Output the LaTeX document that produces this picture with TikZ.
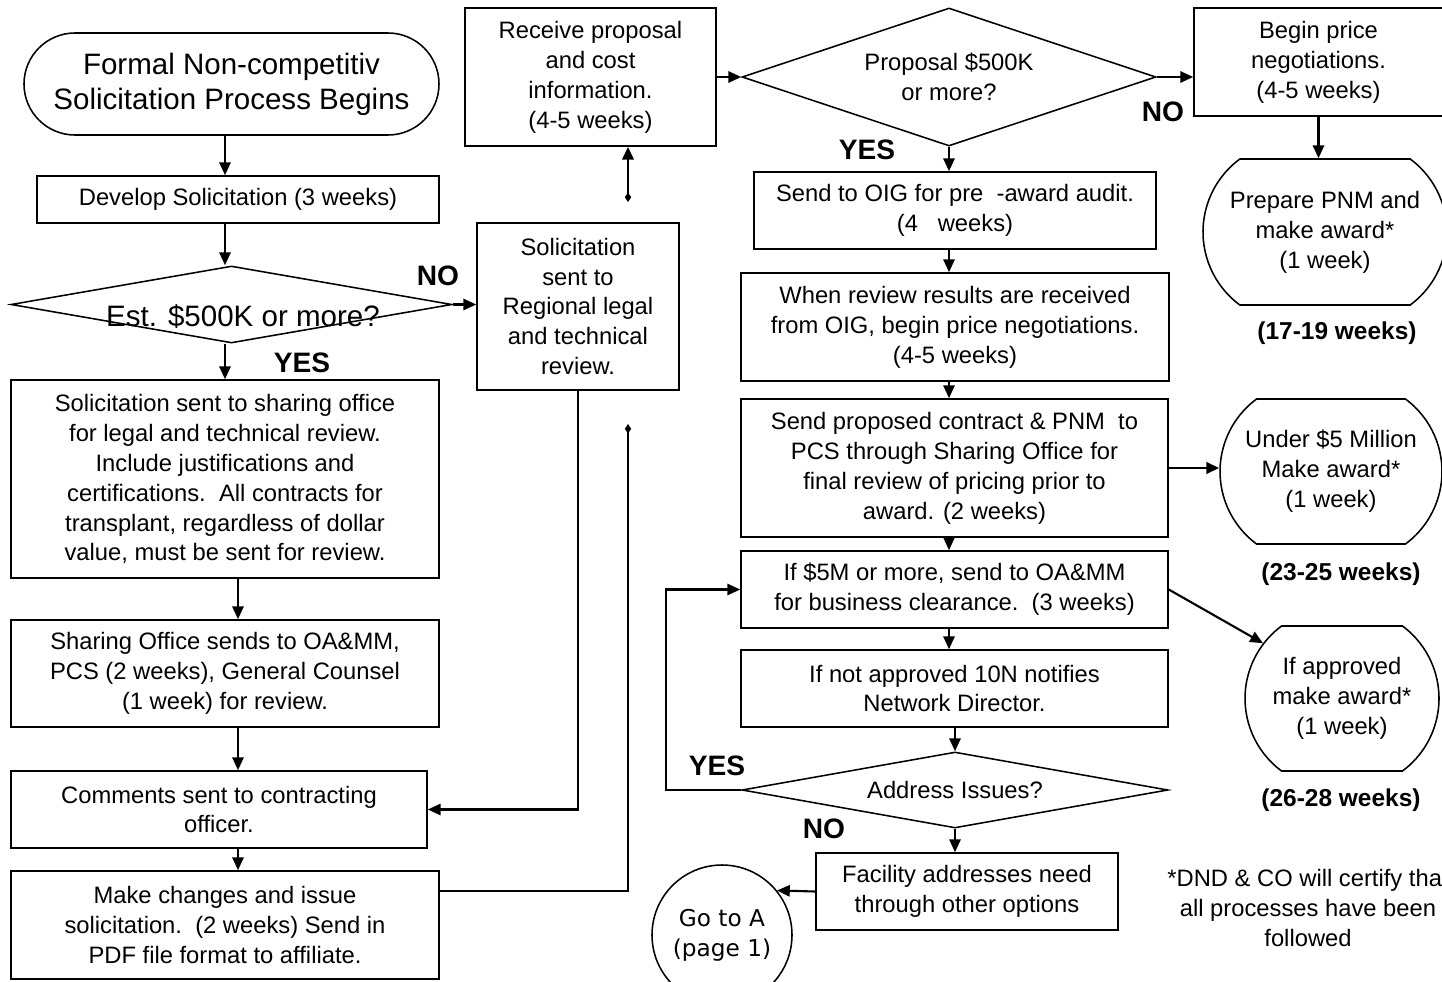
\documentclass[tikz,border=0pt]{standalone}
\usepackage{fontspec}
\setmainfont{Liberation Sans}
\newfontfamily\circlefont{DejaVu Sans}
\usetikzlibrary{shapes.geometric,shapes.misc,arrows.meta}

\begin{document}
\begin{tikzpicture}[x=0.25mm,y=-0.25mm,
    txt/.style={font=\fontsize{16.9}{21.3}\selectfont, align=center},
    bigtxt/.style={font=\fontsize{21}{24.8}\selectfont, align=center},
    box/.style={txt, draw, line width=1.1pt, inner sep=0pt},
    endbox/.style={txt, draw, line width=1.1pt, inner sep=0pt, rounded rectangle, rounded rectangle arc length=107},
    ask/.style={draw, diamond, line width=1.1pt, inner sep=0pt},
    yesno/.style={font=\fontsize{20}{24}\selectfont\bfseries},
    weeks/.style={font=\fontsize{17.4}{21}\selectfont\bfseries},
    arr/.style={line width=1.5pt, -{Triangle[length=3.2mm,width=2.8mm]}},
    back/.style={line width=2pt},
    ]
    \useasboundingbox (0,0) rectangle (1442,982);

    \node[endbox, bigtxt, rounded rectangle arc length=180, minimum width=103.75mm, minimum height=25.5mm] (start) at (231.5,84) {Formal Non-competitiv\\Solicitation Process Begins};
    \node[box, minimum width=100.5mm, minimum height=11.75mm] (develop) at (238,199.5) {Develop Solicitation (3 weeks)};
    \node[ask, aspect=5.7, minimum width=110.25mm, minimum height=19.25mm] (est) at (231.5,304.5) {};
    \node[bigtxt] (esttext) at (243,317) {Est. \$500K or more?};
    \node[box, minimum width=107mm, minimum height=49.5mm] (sharing) at (225,479) {Solicitation sent to sharing office\\for legal and technical review.\\Include justifications and\\certifications.\ \ All contracts for\\transplant, regardless of dollar\\value, must be sent for review.};
    \node[box, minimum width=107mm, minimum height=26.75mm] (oamm) at (225,673.5) {Sharing Office sends to OA\&MM,\\PCS (2 weeks), General Counsel\\(1 week) for review.};
    \node[box, minimum width=104mm, minimum height=19.25mm] (comments) at (219,809.5) {Comments sent to contracting\\officer.};
    \node[box, minimum width=107mm, minimum height=27mm] (changes) at (225,925) {Make changes and issue\\solicitation.\ \ (2 weeks) Send in\\PDF file format to affiliate.};

    \node[box, minimum width=62.75mm, minimum height=34.5mm] (receive) at (590.5,77) {Receive proposal\\and cost\\information.\\(4-5 weeks)};
    \node[box, minimum width=50.5mm, minimum height=41.75mm] (review) at (578,306.5) {Solicitation\\sent to\\Regional legal\\and technical\\review.};

    \node[ask, txt, aspect=3, minimum width=103.5mm, minimum height=34.5mm] (prop) at (949,77) {Proposal \$500K\\or more?};
    \node[box, minimum width=100.5mm, minimum height=19.25mm] (oig) at (955,210.5) {Send to OIG for pre\ \ -award audit.\\(4\ \ \ weeks)};
    \node[box, minimum width=107mm, minimum height=27mm] (results) at (955,327) {When review results are received\\from OIG, begin price negotiations.\\(4-5 weeks)};
    \node[box, minimum width=106.75mm, minimum height=34.5mm] (proposed) at (954.5,468) {Send proposed contract \& PNM\ \ to\\PCS through Sharing Office for\\final review of pricing prior to\\award. (2 weeks)};
    \node[box, minimum width=106.75mm, minimum height=19.25mm] (clear) at (954.5,589.5) {If \$5M or more, send to OA\&MM\\for business clearance.\ \ (3 weeks)};
    \node[box, minimum width=106.75mm, minimum height=19.25mm] (notify) at (954.5,688.5) {If not approved 10N notifies\\Network Director.};
    \node[ask, txt, aspect=5.6, minimum width=106.5mm, minimum height=19mm] (address) at (955,790) {Address Issues?};
    \node[box, minimum width=75.5mm, minimum height=19.25mm] (facility) at (967,891.5) {Facility addresses need\\through other options};
    \node[draw, circle, line width=1.1pt, minimum size=35mm, inner sep=0pt, align=center, font=\circlefont\fontsize{16.5}{21.3}\selectfont] (gotoa) at (722,935) {Go to A\\(page 1)};

    \node[box, minimum width=62.25mm, minimum height=27mm] (price) at (1318.5,62) {Begin price\\negotiations.\\(4-5 weeks)};
    \node[endbox, minimum width=61mm, minimum height=36.5mm] (pnm) at (1325,232) {Prepare PNM and\\make award*\\(1 week)};
    \node[weeks] (wk1) at (1337,333) {(17-19 weeks)};
    \node[endbox, minimum width=55.5mm, minimum height=36.25mm] (under) at (1331,471.5) {Under \$5 Million\\Make award*\\(1 week)};
    \node[weeks] (wk2) at (1341,574) {(23-25 weeks)};
    \node[endbox, minimum width=48.5mm, minimum height=36.25mm] (approved) at (1342,698.5) {If approved\\make award*\\(1 week)};
    \node[weeks] (wk3) at (1341,800) {(26-28 weeks)};
    \node[txt] (note) at (1308,908) {*DND \& CO will certify tha\phantom{t}\\all processes have been\\followed};

    \node[yesno] (no1) at (438,276) {NO};
    \node[yesno] (yes1) at (302,363) {YES};
    \node[yesno] (no2) at (1163,112) {NO};
    \node[yesno] (yes2) at (867,150) {YES};
    \node[yesno] (yes3) at (717,766) {YES};
    \node[yesno] (no3) at (824,829) {NO};

    \draw[arr] (start.south -| sharing) -- (develop.north -| sharing);
    \draw[arr] (develop.south -| sharing) -- (est.north -| sharing);
    \draw[arr] (est.south -| sharing) -- (sharing.north);
    \draw[arr] (est.east) -- (est.east -| review.west);
    \draw[arr] (sharing.south -| develop) -- (oamm.north -| develop);
    \draw[arr] (oamm.south -| develop) -- (comments.north -| develop);
    \draw[arr] (comments.south -| develop) -- (changes.north -| develop);
    \draw[arr] (review.south) |- (comments.east);

    \coordinate (backlow) at (628,424);
    \coordinate (backhigh) at (628,202);
    \draw[back, -{Diamond[length=2.4mm,width=1.6mm]}] ([yshift=8.5mm]changes.east) -| (backlow);
    \draw[back, {Diamond[length=2.4mm,width=1.6mm]}-{Triangle[length=3.2mm,width=2.8mm]}] (backhigh) -- (backhigh |- receive.south);

    \draw[arr] (receive) -- (prop);
    \draw[arr] (prop.east) -- (prop.east -| price.west);
    \draw[arr] (price.south) -- (price.south |- pnm.north);
    \draw[arr] (prop.south) -- (prop.south |- oig.north);
    \draw[arr] (oig.south -| prop) -- (results.north -| prop);
    \draw[arr] (results.south -| prop) -- (proposed.north -| prop);
    \draw[arr] (proposed.south -| prop) -- (clear.north -| prop);
    \draw[arr] (clear.south -| prop) -- (notify.north -| prop);
    \draw[arr, line width=2pt] (proposed.east) -- (proposed.east -| under.west);
    \draw[arr] (clear.east) -- (approved.145);
    \draw[arr] (notify.south -| address) -- (address.north);

    \coordinate (loopturn) at (666,790);
    \draw[arr] (address.west) -- (loopturn) |- (clear.west);
    \draw[arr] (address.south) -- (address.south |- facility.north);
    \draw[arr] (facility.west) -- (gotoa.39);
\end{tikzpicture}
\end{document}
